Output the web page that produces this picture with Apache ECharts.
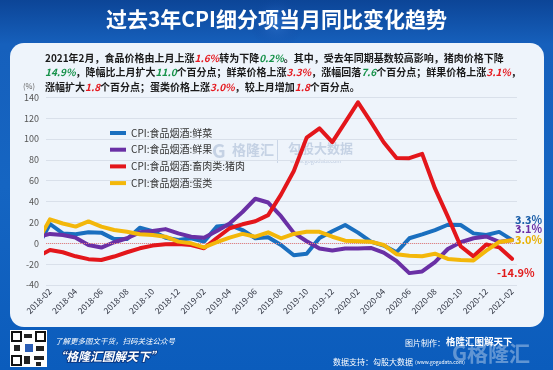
<!DOCTYPE html>
<html>
<head>
<meta charset="utf-8">
<script src="https://cdn.jsdelivr.net/npm/echarts@6/dist/echarts.min.js"></script>
<style>
html,body{margin:0;padding:0;background:#0d4fa6;}
#chart{width:553px;height:370px;}
</style>
</head>
<body>
<div id="chart"></div>
<script>
// months: index 0 = 2018-01 (partly outside the plot), index 1 = 2018-02 ... index 37 = 2021-02
const months = ['2018-01','2018-02','2018-03','2018-04','2018-05','2018-06','2018-07','2018-08','2018-09','2018-10','2018-11','2018-12',
  '2019-01','2019-02','2019-03','2019-04','2019-05','2019-06','2019-07','2019-08','2019-09','2019-10','2019-11','2019-12',
  '2020-01','2020-02','2020-03','2020-04','2020-05','2020-06','2020-07','2020-08','2020-09','2020-10','2020-11','2020-12',
  '2021-01','2021-02'];
const tickLabels = ['2018-02','2018-04','2018-06','2018-08','2018-10','2018-12','2019-02','2019-04','2019-06','2019-08',
  '2019-10','2019-12','2020-02','2020-04','2020-06','2020-08','2020-10','2020-12','2021-02'];
const yTicks = [-40, -20, 0, 20, 40, 60, 80, 100, 120, 140];

const seriesNames = ['CPI:食品烟酒:鲜菜','CPI:食品烟酒:鲜果','CPI:食品烟酒:畜肉类:猪肉','CPI:食品烟酒:蛋类'];
const vegValues   = [-4, 18.5, 9.5, 8.6, 10.5, 10.2, 4, 4, 15, 11.5, 5.4, 3.2, 4.8, 1.6, 16, 17.4, 12.7, 4.8, 5.8, -1.6, -11.5, -10, 5, 11.5, 17.5, 10.2, 1.6, -2.2, -8.6, 4.8, 8.5, 12.7, 17.8, 17.5, 9.5, 8, 10.9, 3.3];
const fruitValues = [6, 9, 8, 5.4, -1.6, -4.1, 1, 4.8, 10.5, 11.7, 13.6, 9.5, 6.3, 5.4, 11.7, 19, 30, 42.7, 39.1, 26, 10, 2, -5, -7, -5, -5, -4.5, -9, -17, -28.6, -27, -18, -5.5, 1, 4.8, 6.5, 1.3, 3.1];
const porkValues  = [-13, -6.5, -8.6, -12.5, -15.2, -16, -12.7, -8.6, -4.8, -2.2, -1, -0.6, -1.6, -4.8, 5.1, 14.4, 18.2, 21.1, 27.0, 46.7, 69.3, 101.3, 110.2, 97.0, 116.0, 135.2, 116.4, 96.9, 81.7, 81.6, 85.7, 52.6, 25.5, -2.8, -12.5, -1.1, -3.9, -14.9];
const eggValues   = [1, 23, 19, 16, 21, 16, 12.7, 11, 8.6, 8, 6.3, 1.6, 0, -4, 1, 5.5, 9, 6.3, 10.5, 4.8, 9, 11, 11, 6.3, 2.5, 2, 1.5, -1.6, -10.5, -12, -12.5, -10, -15, -16, -16.5, -7, 1.2, 3.0];

const colors = ['#1a6fbf', '#6a30a5', '#e3161b', '#f3b70a'];
const labelColors = ['#1b5ea8', '#6a2ea5', '#e8b000', '#e21a1a'];

const FONT = '"Noto Sans CJK SC", "Noto Sans", sans-serif';

const chart = echarts.init(document.getElementById('chart'), null, {renderer: 'canvas'});

function toXY(arr) { return arr.map((v, k) => [k - 1, v]); }

const tickPos = tickLabels.map(l => months.indexOf(l) - 1);

const allValues = [vegValues, fruitValues, porkValues, eggValues];
const endOffsets = [[3, -20.5], [3, -11.5], [-15, 13.7], [3, 0]];
const endColors = [labelColors[0], labelColors[1], labelColors[3], labelColors[2]];

const series = allValues.map((vals, s) => ({
  name: seriesNames[s],
  type: 'line',
  data: toXY(vals),
  showSymbol: false,
  symbol: 'none',
  clip: true,
  z: 3 + s,
  lineStyle: {color: colors[s], width: 4, cap: 'round', join: 'round'},
  itemStyle: {color: colors[s]},
  endLabel: {
    show: true,
    distance: 0,
    align: 'left',
    offset: endOffsets[s],
    formatter: p => p.value[1].toFixed(1) + '%',
    color: endColors[s],
    fontSize: 11,
    fontWeight: 'bold',
    fontFamily: FONT
  },
  markLine: s === 0 ? {
    silent: true,
    symbol: 'none',
    label: {show: false},
    lineStyle: {color: '#e88080', type: 'dotted', width: 1},
    data: [{yAxis: 0}]
  } : undefined
}));

const r = {color: '#e5191f', fontStyle: 'italic', fontWeight: 'bold', fontSize: 10, fontFamily: FONT};
const g = {color: '#17924a', fontStyle: 'italic', fontWeight: 'bold', fontSize: 10, fontFamily: FONT};
const para = {color: '#1a1a1a', fontSize: 10, fontFamily: FONT, lineHeight: 14, rich: {r: r, g: g}};

const option = {
  animation: false,
  backgroundColor: 'transparent',
  title: [
    {text: '过去3年CPI细分项当月同比变化趋势', left: 'center', top: 9, padding: 0,
     textStyle: {color: '#ffffff', fontSize: 21, fontWeight: 'bold', fontFamily: FONT}},
    {text: '2021年2月，食品价格由上月上涨{r|1.6%}转为下降{g|0.2%}。其中，受去年同期基数较高影响，猪肉价格下降',
     left: 45, top: 51, padding: 0, textStyle: para},
    {text: '{g|14.9%}，降幅比上月扩大{g|11.0}个百分点；鲜菜价格上涨{r|3.3%}，涨幅回落{g|7.6}个百分点；鲜果价格上涨{r|3.1%}，',
     left: 45, top: 65.7, padding: 0, textStyle: para},
    {text: '涨幅扩大{r|1.8}个百分点；蛋类价格上涨{r|3.0%}，较上月增加{r|1.8}个百分点。',
     left: 45, top: 80, padding: 0, textStyle: para},
    {text: '(%)', left: 23, top: 82, padding: 0, textStyle: {color: '#666', fontSize: 7.5, fontWeight: 'normal', fontFamily: FONT}}
  ],
  legend: {
    orient: 'vertical',
    left: 105,
    top: 122,
    itemWidth: 16,
    itemHeight: 4,
    itemGap: 4.7,
    icon: 'rect',
    data: seriesNames,
    textStyle: {color: '#333', fontSize: 10, fontFamily: FONT, lineHeight: 12}
  },
  grid: {left: 46, right: 36, top: 97.3, bottom: 85},
  xAxis: {
    type: 'value',
    min: -0.31,
    max: 36.39,
    axisLine: {show: false},
    axisTick: {show: false},
    splitLine: {show: false},
    axisLabel: {
      customValues: tickPos,
      rotate: 45,
      margin: 5,
      color: '#2f3340',
      fontSize: 8.5,
      fontFamily: FONT,
      formatter: v => months[Math.round(v) + 1]
    }
  },
  yAxis: {
    type: 'value',
    min: yTicks[0],
    max: yTicks[yTicks.length - 1],
    interval: 20,
    axisLine: {show: false},
    axisTick: {show: false},
    splitLine: {lineStyle: {color: '#d9e0ea', width: 1}},
    axisLabel: {color: '#555', fontSize: 9, margin: 7, fontFamily: FONT}
  },
  graphic: [
    {type: 'rect', z: -100, silent: true, shape: {x: 0, y: 0, width: 553, height: 370},
     style: {fill: new echarts.graphic.LinearGradient(0, 0, 0, 1, [
       {offset: 0, color: '#0c4597'}, {offset: 0.12, color: '#1660bc'}, {offset: 0.5, color: '#1565c2'}, {offset: 1, color: '#0b5cbc'}])}},
    {type: 'rect', z: -99, silent: true, shape: {x: 0, y: 0, width: 553, height: 45},
     style: {fill: new echarts.graphic.RadialGradient(0.5, 0.5, 0.6, [
       {offset: 0, color: 'rgba(60,130,220,0.55)'}, {offset: 1, color: 'rgba(10,60,150,0)'}])}},
    {type: 'rect', z: -98, silent: true, shape: {x: 10, y: 43, width: 534, height: 284, r: 14},
     style: {fill: '#eef4fb'}},
    {type: 'text', z: -50, silent: true, style: {text: 'G', x: 212, y: 141, fill: 'rgba(120,145,185,0.35)', fontSize: 19, fontWeight: 'bold', fontFamily: FONT}},
    {type: 'text', z: -50, silent: true, style: {text: '格隆汇', x: 232, y: 143, fill: 'rgba(120,145,185,0.35)', fontSize: 14, fontWeight: 'bold', fontFamily: FONT}},
    {type: 'rect', z: -50, silent: true, shape: {x: 277, y: 140, width: 1, height: 23}, style: {fill: 'rgba(120,145,185,0.3)'}},
    {type: 'text', z: -50, silent: true, style: {text: '勾股大数据', x: 288, y: 142, fill: 'rgba(120,145,185,0.35)', fontSize: 13, fontWeight: 'bold', fontFamily: FONT}},
    {type: 'text', z: -50, silent: true, style: {text: 'www.gogudata.com', x: 290, y: 158, fill: 'rgba(120,145,185,0.4)', fontSize: 5.5, fontFamily: FONT}},
    {type: 'rect', z: -90, silent: true, shape: {x: 10, y: 330, width: 37, height: 37}, style: {fill: '#ffffff'}},
    {type: 'rect', z: -89, silent: true, shape: {x: 12, y: 332, width: 9, height: 9}, style: {fill: '#ffffff', stroke: '#111', lineWidth: 2}},
    {type: 'rect', z: -89, silent: true, shape: {x: 36, y: 332, width: 9, height: 9}, style: {fill: '#ffffff', stroke: '#111', lineWidth: 2}},
    {type: 'rect', z: -89, silent: true, shape: {x: 12, y: 356, width: 9, height: 9}, style: {fill: '#ffffff', stroke: '#111', lineWidth: 2}},
    {type: 'rect', z: -89, silent: true, shape: {x: 24, y: 334, width: 8, height: 4}, style: {fill: '#222'}},
    {type: 'rect', z: -89, silent: true, shape: {x: 14, y: 345, width: 6, height: 6}, style: {fill: '#222'}},
    {type: 'rect', z: -89, silent: true, shape: {x: 25, y: 344, width: 8, height: 8}, style: {fill: '#2a5db5'}},
    {type: 'rect', z: -89, silent: true, shape: {x: 36, y: 346, width: 8, height: 5}, style: {fill: '#222'}},
    {type: 'rect', z: -89, silent: true, shape: {x: 24, y: 356, width: 6, height: 8}, style: {fill: '#222'}},
    {type: 'rect', z: -89, silent: true, shape: {x: 34, y: 356, width: 10, height: 4}, style: {fill: '#222'}},
    {type: 'rect', z: -89, silent: true, shape: {x: 36, y: 362, width: 5, height: 4}, style: {fill: '#222'}},
    {type: 'text', silent: true, style: {text: '了解更多图文干货，扫码关注公众号', x: 55, y: 337, fill: '#ffffff', fontSize: 7.5, fontStyle: 'italic', fontFamily: FONT}},
    {type: 'text', silent: true, style: {text: '“格隆汇图解天下”', x: 54, y: 350, fill: '#ffffff', fontSize: 12, fontStyle: 'italic', fontWeight: 'bold', fontFamily: FONT,
      stroke: '#0a3a88', lineWidth: 2}},
    {type: 'text', silent: true, z: 1, style: {text: 'G格隆汇', x: 452, y: 343, fill: 'rgba(255,255,255,0.35)', fontSize: 21, fontWeight: 'bold', fontFamily: FONT}},
    {type: 'text', silent: true, z: 2, style: {text: '图片制作：', x: 405, y: 339, fill: '#ffffff', fontSize: 8, fontFamily: FONT}},
    {type: 'text', silent: true, z: 2, style: {text: '格隆汇图解天下', x: 446, y: 337, fill: '#ffffff', fontSize: 9.5, fontWeight: 'bold', fontFamily: FONT}},
    {type: 'text', silent: true, z: 2, style: {text: '数据支持：勾股大数据', x: 333, y: 358, fill: '#ffffff', fontSize: 8, fontFamily: FONT}},
    {type: 'text', silent: true, z: 2, style: {text: '(www.gogudata.com)', x: 415, y: 360, fill: '#ffffff', fontSize: 5, fontFamily: FONT}}
  ],
  series: series
};

chart.setOption(option);
</script>
</body>
</html>
